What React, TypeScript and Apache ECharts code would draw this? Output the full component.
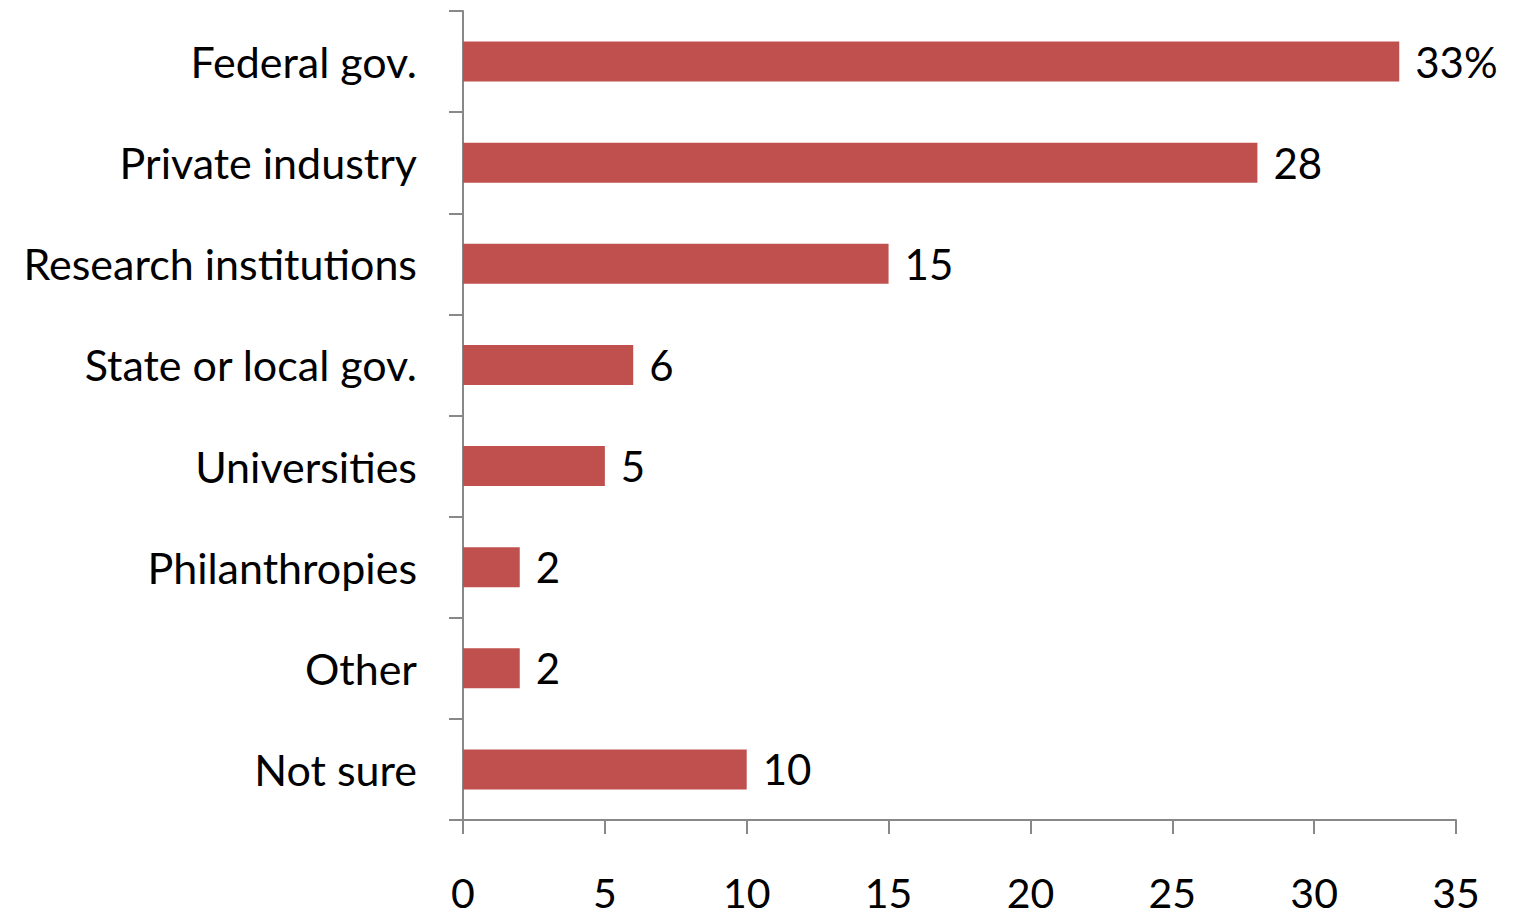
import React, { useEffect, useRef } from "react";
import * as echarts from "echarts";

const categories = [
  "Federal gov.",
  "Private industry",
  "Research institutions",
  "State or local gov.",
  "Universities",
  "Philanthropies",
  "Other",
  "Not sure",
];
const values = [33, 28, 15, 6, 5, 2, 2, 10];
const valueLabels = ["33%", "28", "15", "6", "5", "2", "2", "10"];
const xTicks = { min: 0, max: 35, interval: 5 };

const FONT = "Lato";
const AXIS_COLOR = "#888888";
const BAR_COLOR = "#C0504D";

export default function App() {
  const ref = useRef<HTMLDivElement>(null);
  useEffect(() => {
    if (!ref.current) return;
    const chart = echarts.init(ref.current, null, { renderer: "svg" });
    chart.setOption({
      animation: false,
      backgroundColor: "#ffffff",
      grid: { left: 463, right: 62, top: 11, bottom: 96, containLabel: false },
      xAxis: {
        type: "value",
        min: xTicks.min,
        max: xTicks.max,
        interval: xTicks.interval,
        splitLine: { show: false },
        axisLine: { show: true, lineStyle: { color: AXIS_COLOR, width: 2 } },
        axisTick: { show: true, length: 14, lineStyle: { color: AXIS_COLOR, width: 2 } },
        axisLabel: { color: "#000", fontFamily: FONT, fontSize: 41, lineHeight: 40, margin: 52 },
      },
      yAxis: {
        type: "category",
        data: categories,
        inverse: true,
        axisLine: { show: true, lineStyle: { color: AXIS_COLOR, width: 2 } },
        axisTick: { show: true, length: 14, lineStyle: { color: AXIS_COLOR, width: 2 } },
        axisLabel: { color: "#000", fontFamily: FONT, fontSize: 43, margin: 46 },
      },
      series: [
        {
          type: "bar",
          data: values,
          barWidth: 40,
          itemStyle: { color: BAR_COLOR },
          label: {
            show: true,
            position: "right",
            distance: 16,
            color: "#000",
            fontFamily: FONT,
            fontSize: 42,
            formatter: (p: any) => valueLabels[p.dataIndex],
          },
        },
      ],
    });
    return () => chart.dispose();
  }, []);
  return (
    <div
      ref={ref}
      style={{ position: "absolute", left: 0, top: 0, width: 1518, height: 916 }}
    />
  );
}
